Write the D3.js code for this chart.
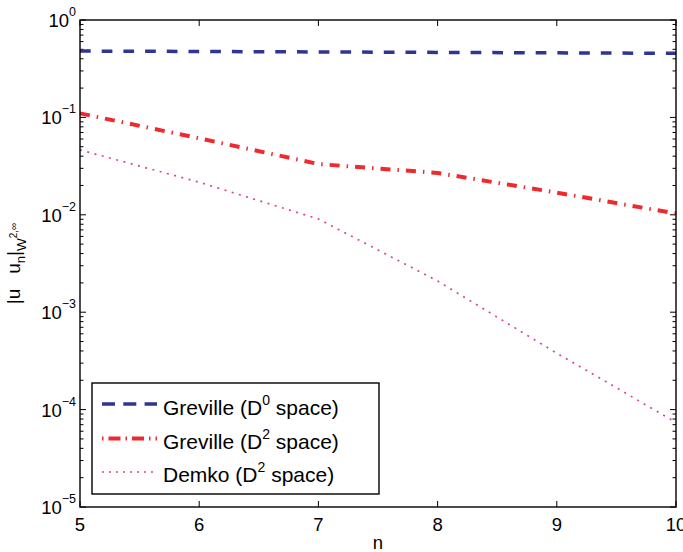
<!DOCTYPE html>
<html>
<head>
<meta charset="utf-8">
<script src="https://cdn.jsdelivr.net/npm/d3@7"></script>
<style>
  html, body { margin: 0; padding: 0; background: #fff; }
  svg { display: block; font-family: "Liberation Sans", Arial, Helvetica, sans-serif; }
</style>
</head>
<body>
<script>
// ---- data ----
const nValues = [5, 6, 7, 8, 9, 10];
const grevilleD0 = [0.48, 0.475, 0.47, 0.465, 0.46, 0.455];
const grevilleD2 = [0.110, 0.061, 0.0332, 0.0269, 0.0169, 0.0103];
const demkoD2 = [0.0464, 0.0216, 0.00906, 0.00209, 0.000379, 0.000074];
const xTicks = [5, 6, 7, 8, 9, 10];
const yExponents = [0, -1, -2, -3, -4, -5];
const seriesNames = ["Greville (D", "Greville (D", "Demko (D"];
const seriesSups = ["0", "2", "2"];

const W = 683, H = 552;
const svg = d3.select("body").append("svg").attr("width", W).attr("height", H);

const x = d3.scaleLinear().domain([5, 10]).range([80, 676]);
const y = d3.scaleLog().domain([1e-5, 1]).range([507, 20]);

// ---- ticks ----
const tickG = svg.append("g").attr("stroke", "#000").attr("stroke-width", 1);
const majorLen = 6, minorLen = 3.5;
yExponents.forEach(k => {
  const v = Math.pow(10, k);
  tickG.append("line").attr("x1", x(5)).attr("x2", x(5) + majorLen).attr("y1", y(v)).attr("y2", y(v));
  tickG.append("line").attr("x1", x(10)).attr("x2", x(10) - majorLen).attr("y1", y(v)).attr("y2", y(v));
  for (let m = 2; m <= 9; m++) {
    const mv = m * Math.pow(10, k - 1);
    if (mv < 1e-5) continue;
    tickG.append("line").attr("x1", x(5)).attr("x2", x(5) + minorLen).attr("y1", y(mv)).attr("y2", y(mv));
    tickG.append("line").attr("x1", x(10)).attr("x2", x(10) - minorLen).attr("y1", y(mv)).attr("y2", y(mv));
  }
});
xTicks.forEach(t => {
  tickG.append("line").attr("x1", x(t)).attr("x2", x(t)).attr("y1", y(1e-5)).attr("y2", y(1e-5) - majorLen);
  tickG.append("line").attr("x1", x(t)).attr("x2", x(t)).attr("y1", y(1)).attr("y2", y(1) + majorLen);
});

// ---- series ----
const line = d3.line().x((d, i) => x(nValues[i])).y(d => y(d));
svg.append("path").datum(grevilleD0).attr("d", line)
  .attr("fill", "none").attr("stroke", "#2e3592").attr("stroke-width", 3.5)
  .attr("stroke-dasharray", "10.7,11");
svg.append("path").datum(grevilleD2).attr("d", line)
  .attr("fill", "none").attr("stroke", "#ee2a2e").attr("stroke-width", 4)
  .attr("stroke-dasharray", "10,7,1.5,7");
svg.append("path").datum(demkoD2).attr("d", line)
  .attr("fill", "none").attr("stroke", "#d8449f").attr("stroke-width", 1.7)
  .attr("stroke-dasharray", "2,5.5");

// ---- axes box ----
svg.append("rect").attr("x", x(5)).attr("y", y(1))
  .attr("width", x(10) - x(5)).attr("height", y(1e-5) - y(1))
  .attr("fill", "none").attr("stroke", "#000").attr("stroke-width", 1.4);

// ---- tick labels ----
xTicks.forEach(t => {
  svg.append("text").attr("x", x(t)).attr("y", 531).attr("text-anchor", "middle")
    .attr("font-size", 18.5).text(t);
});
yExponents.forEach(k => {
  const tx = svg.append("text").attr("x", 76).attr("y", y(Math.pow(10, k)) + 7)
    .attr("text-anchor", "end").attr("font-size", 18.5);
  tx.append("tspan").text("10");
  tx.append("tspan").attr("font-size", 12.5).attr("dy", -11).text(k === 0 ? "0" : "\u2212" + (-k));
});

// ---- axis labels ----
svg.append("text").attr("x", 378).attr("y", 549).attr("text-anchor", "middle")
  .attr("font-size", 18.5).text("n");
const yl = svg.append("text").attr("transform", "translate(20," + ((y(1) + y(1e-5)) / 2) + ") rotate(-90)")
  .attr("text-anchor", "middle").attr("font-size", 19);
yl.append("tspan").text("|u \u2002u");
yl.append("tspan").attr("font-size", 13).attr("dy", 5).text("n");
yl.append("tspan").attr("dy", -5).text("|");
yl.append("tspan").attr("font-size", 13.5).attr("dy", 6).text("W");
yl.append("tspan").attr("font-size", 10).attr("dy", -9).text("2,\u221E");

// ---- legend ----
const lg = svg.append("g");
lg.append("rect").attr("x", 92).attr("y", 383).attr("width", 287).attr("height", 111)
  .attr("fill", "#fff").attr("stroke", "#000").attr("stroke-width", 1.4);
const rowText = [415, 448.5, 482];
const rowLine = [404, 438.5, 472];
const styles = [
  { c: "#2e3592", w: 3.5, d: "13,8.3" },
  { c: "#ee2a2e", w: 4, d: "1.5,5,12,5" },
  { c: "#d8449f", w: 1.7, d: "2,5" }
];
seriesNames.forEach((name, i) => {
  lg.append("line").attr("x1", 102).attr("x2", 157).attr("y1", rowLine[i]).attr("y2", rowLine[i])
    .attr("stroke", styles[i].c).attr("stroke-width", styles[i].w).attr("stroke-dasharray", styles[i].d);
  const t = lg.append("text").attr("x", 163).attr("y", rowText[i]).attr("font-size", 21);
  t.append("tspan").text(name);
  t.append("tspan").attr("font-size", 14).attr("dy", -10).text(seriesSups[i]);
  t.append("tspan").attr("dy", 10).text(" space)");
});
</script>
</body>
</html>
